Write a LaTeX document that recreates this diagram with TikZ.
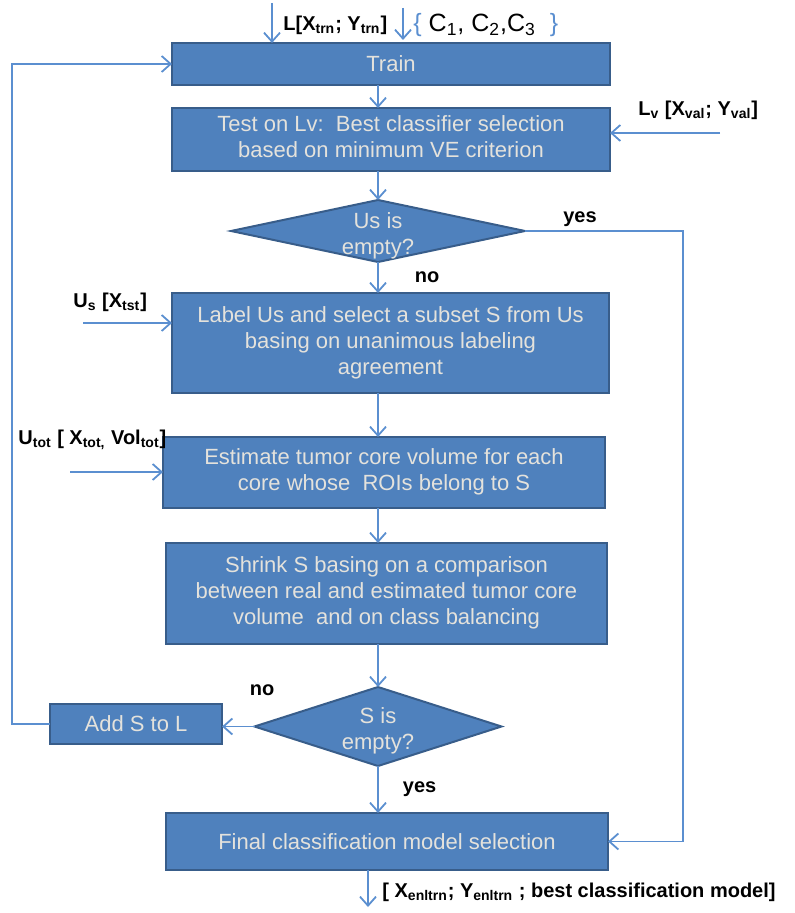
\documentclass[tikz,border=0pt]{standalone}
\usepackage{fontspec}
\setmainfont{Liberation Sans}
\usetikzlibrary{arrows.meta,shapes.geometric,calc}
\definecolor{boxFill}{HTML}{4F81BD}
\definecolor{boxLine}{HTML}{385D8A}
\definecolor{boxText}{HTML}{E4E2DC}
\definecolor{lnColor}{HTML}{5B8FD0}
\newcommand{\sbs}[1]{\textsubscript{#1}}

\begin{document}
\begin{tikzpicture}[x=0.5pt,y=-0.5pt,>={Straight Barb[length=4.5pt,width=8pt]},
		box/.style={draw=boxLine, fill=boxFill, line width=1pt, text=boxText, inner sep=0pt, outer sep=0,
			font=\fontsize{11}{13}\selectfont},
		dec/.style={diamond, draw=boxLine, fill=boxFill, line width=1pt, inner sep=0pt, outer sep=0},
		dectxt/.style={text=boxText, align=center, font=\fontsize{11}{13}\selectfont},
		lab/.style={text=black, inner sep=0pt, font=\fontsize{10}{12}\selectfont\bfseries},
		ln/.style={draw=lnColor, line width=0.9pt, ->},
		every edge/.style={ln}]
	\useasboundingbox (0,0) rectangle (794,913);
	\node[box, minimum width=219pt, minimum height=21pt] (tr) at (391, 64) {Train};
	\node[box, minimum width=219pt, minimum height=31.5pt] (ts) at (391, 139.5) {\begin{tabular}{c}
			Test on Lv:\ \ Best classifier selection \\ based on minimum VE criterion
	\end{tabular}};
	\node[dec, minimum width=147pt, minimum height=31pt,
		label={[dectxt, yshift=-2.5pt]center:{Us is\\empty?}}] (d1) at (378, 231) {};
	\node[box, minimum width=218.5pt, minimum height=50pt] (lb) at (390.5, 343) {\begin{tabular}{c}
			Label Us and select a subset S from Us \\ basing on unanimous labeling \\ agreement
	\end{tabular}};
	\node[box, minimum width=221pt, minimum height=35.5pt] (es) at (384, 472.5) {\begin{tabular}{c}
			Estimate tumor core volume for each \\ core whose\ \ ROIs belong to S
	\end{tabular}};
	\node[box, minimum width=220.5pt, minimum height=50.5pt] (sh) at (386.5, 593.5) {\begin{tabular}{c}
			Shrink S basing on a comparison \\ between real and estimated tumor core \\ volume\ \ and on class balancing
	\end{tabular}};
	\node[dec, minimum width=123.5pt, minimum height=39.5pt,
		label={[dectxt, yshift=-2pt]center:{S is\\empty?}}] (d2) at (378, 726.5) {};
	\node[box, minimum width=86pt, minimum height=20pt] (ad) at (136, 724) {Add S to L};
	\node[box, minimum width=221pt, minimum height=28.5pt] (fn) at (387, 841.5) {Final classification model selection};

	% inputs and outputs
	\coordinate (li) at (272, 3);
	\coordinate (ci) at (403, 8);
	\coordinate (lvs) at (720, 133);
	\coordinate (uss) at (83, 323);
	\coordinate (uts) at (70, 472);
	\coordinate (o1) at (368, 907);
	\node[lab, anchor=west] (lt) at (283, 25) {L[X\sbs{trn}; Y\sbs{trn}]};
	\node[anchor=west, inner sep=0pt, font=\fontsize{12.5}{14}\selectfont] (ct) at (413, 25)
		{\textcolor{lnColor}{\{} C\sbs{1}, C\sbs{2},C\sbs{3}\ \ \textcolor{lnColor}{\}}};
	\node[lab, anchor=west] (lv) at (638, 110) {L\sbs{v} [X\sbs{val}; Y\sbs{val}]};
	\node[lab, anchor=west] (us) at (73, 302) {U\sbs{s} [X\sbs{tst}]};
	\node[lab, anchor=west] (ut) at (18, 440) {U\sbs{tot} [ X\sbs{tot,} Vol\sbs{tot}]};
	\node[lab, anchor=west] (ot) at (382, 892) {[ X\sbs{enltrn}; Y\sbs{enltrn} ; best classification model]};

	\path (li) edge (li |- tr.north);
	\path (ci) edge ($(ci |- tr.north)+(0,-3)$);
	\path (lvs) edge (lvs -| ts.east);
	\path (uss) edge (uss -| lb.west);
	\path (uts) edge (uts -| es.west);
	\path (fn.south -| o1) edge (o1);

	% main flow
	\path (tr.south -| d1.north) edge (ts.north -| d1.north);
	\path (ts.south -| d1.north) edge (d1.north);
	\path (d1.south) edge node[lab, right=18pt] (n1) {no} (lb.north -| d1.south);
	\path (lb.south -| d1.north) edge (es.north -| d1.north);
	\path (es.south -| d1.north) edge (sh.north -| d1.north);
	\path (sh.south -| d2.north) edge (d2.north);
	\path (d2.south) edge node[lab, right=12pt] (y2) {yes} (fn.north -| d2.south);
	\path (d2.west) edge (d2.west -| ad.east);
	\draw[ln] (d1.east) -- ++(158, 0) |- (fn.east);
	\draw[ln] (ad.west) -- ++(-38, 0) |- (tr.west);
	\node[lab] (y1) at (580, 219) {yes};
	\node[lab] (n2) at (262, 690) {no};
\end{tikzpicture}
\end{document}
